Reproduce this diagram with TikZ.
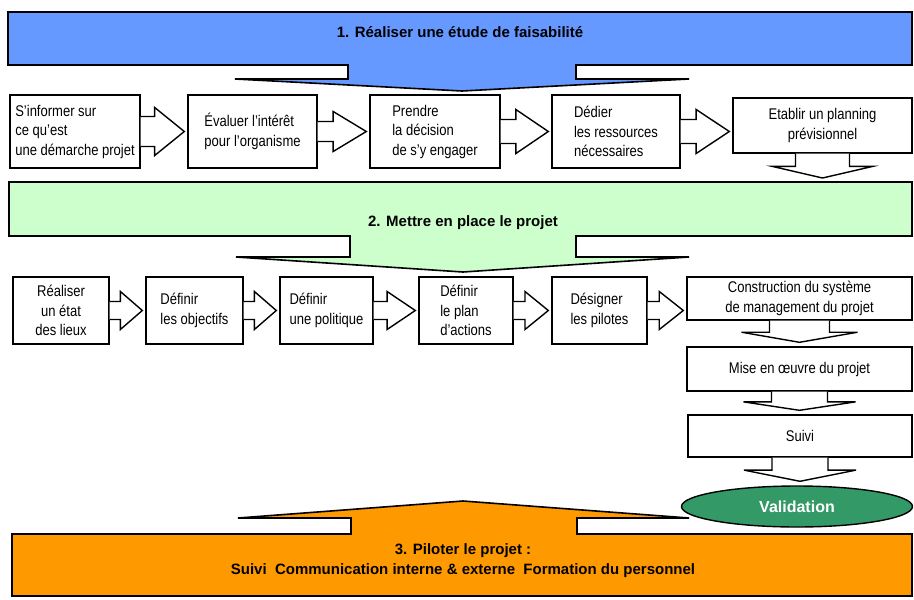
\documentclass[tikz,border=0pt]{standalone}
\usepackage{fontspec}
\setmainfont{Liberation Sans}
\newfontfamily\narrowsans{Liberation Sans}[FakeStretch=0.84]
\usepackage{tikz}
\usetikzlibrary{calc}
\usetikzlibrary{shapes.geometric}

\definecolor{bannerblue}{HTML}{6699FF}
\definecolor{bannergreen}{HTML}{CCFFCC}
\definecolor{bannerorange}{HTML}{FF9900}
\definecolor{validgreen}{HTML}{339966}

\tikzset{
	stepbox/.style={rectangle, draw=black, line width=1.4pt, fill=white, inner sep=0pt, font=\narrowsans\fontsize{15.5}{19.5}\selectfont},
	blockline/.style={draw=black, line width=1.4pt, fill=white, line join=miter},
	banner/.style={draw=black, line width=1.6pt, line join=miter},
	bannertext/.style={font=\bfseries\fontsize{15}{20}\selectfont, align=center, inner sep=0pt}
}

% block arrow to the right, #3 half stem, #4 half head
\newcommand{\rblock}[4]{%
	\path[blockline] let \p1=(#1.east), \p2=(#2.west), \n1={\x1+0.3*(\x2-\x1)} in
	(\x1,\y1+#3pt) -- (\n1,\y1+#3pt) -- (\n1,\y1+#4pt) -- (\x2-3pt,\y1) -- (\n1,\y1-#4pt) -- (\n1,\y1-#3pt) -- (\x1,\y1-#3pt);}
% block arrow downwards
\newcommand{\dblock}[4]{%
	\path[blockline] let \p1=(#1.south), \p2=(#2.north), \n1={\y1+0.45*(\y2-\y1)} in
	(\x1-#3pt,\y1) -- (\x1-#3pt,\n1) -- (\x1-#4pt,\n1) -- (\x1,\y2+4pt) -- (\x1+#4pt,\n1) -- (\x1+#3pt,\n1) -- (\x1+#3pt,\y1);}

\begin{document}
\begin{tikzpicture}[x=1pt, y=-1pt]
	\useasboundingbox (0,0) rectangle (914,600);
	% banners
	\path [banner, fill=bannerblue] (8,12) -- (912,12) -- (912,65) -- (576,65) -- (576,79) -- (689,79) -- (462,91) -- (235,79) -- (348,79) -- (348,65) -- (8,65) -- cycle;
	\node [bannertext] (ban1) at (460,32) {1. Réaliser une étude de faisabilité};
	\path [banner, fill=bannergreen] (9,182) -- (912,182) -- (912,236) -- (576,236) -- (576,257) -- (689,257) -- (463,272) -- (236,257) -- (350,257) -- (350,236) -- (9,236) -- cycle;
	\node [bannertext] (ban2) at (463,223) {2. Mettre en place le projet};
	\coordinate (ban2top) at (822,182);
	\path [banner, fill=bannerorange] (12,596) -- (912,596) -- (912,534) -- (577,534) -- (577,518) -- (689,518) -- (463,501) -- (238,518) -- (351,518) -- (351,534) -- (12,534) -- cycle;
	\node [bannertext] (ban3) at (463,561) {3. Piloter le projet :\\Suivi\ \ Communication interne \& externe\ \ Formation du personnel};

	% feasibility steps
	\node [stepbox, minimum width=130, minimum height=73, align=left] (f1) at (75,131.5) {S’informer sur\\ce qu’est\\une démarche projet};
	\node [stepbox, minimum width=129, minimum height=73, align=left] (f2) at (252.5,131.5) {Évaluer l’intérêt\\pour l’organisme};
	\node [stepbox, minimum width=130, minimum height=73, align=left] (f3) at (435,131.5) {Prendre\\la décision\\de s’y engager};
	\node [stepbox, minimum width=128, minimum height=73, align=left] (f4) at (616,131.5) {Dédier\\les ressources\\nécessaires};
	\node [stepbox, minimum width=179, minimum height=55, align=center] (f5) at (822.5,125.5) {Etablir un planning\\prévisionnel};
	\rblock{f1}{f2}{15}{24}
	\rblock{f2}{f3}{10}{20}
	\rblock{f3}{f4}{12}{22}
	\rblock{f4}{f5}{12}{22}
	\dblock{f5}{ban2top}{27}{50}

	% setting up steps
	\node [stepbox, minimum width=96, minimum height=67, align=center] (m1) at (61,310.5) {Réaliser\\un état\\des lieux};
	\node [stepbox, minimum width=97, minimum height=67, align=left] (m2) at (194.5,310.5) {Définir\\les objectifs};
	\node [stepbox, minimum width=93, minimum height=67, align=left] (m3) at (326.5,310.5) {Définir\\une politique};
	\node [stepbox, minimum width=94, minimum height=67, align=left] (m4) at (466,310.5) {Définir\\le plan\\d’actions};
	\node [stepbox, minimum width=95, minimum height=67, align=left] (m5) at (599.5,310.5) {Désigner\\les pilotes};
	\node [stepbox, minimum width=225, minimum height=43, align=center] (m6) at (799.5,298.5) {Construction du système\\de management du projet};
	\node [stepbox, minimum width=225, minimum height=44] (mise) at (799.5,369) {Mise en œuvre du projet};
	\node [stepbox, minimum width=224, minimum height=42] (suivi) at (800,436) {Suivi};
	\rblock{m1}{m2}{9}{19}
	\rblock{m2}{m3}{9}{19}
	\rblock{m3}{m4}{9}{19}
	\rblock{m4}{m5}{9}{19}
	\rblock{m5}{m6}{9}{19}
	\dblock{m6}{mise}{30}{58}
	\dblock{mise}{suivi}{28}{56}

	\node [ellipse, draw=black, line width=1.4pt, fill=validgreen, minimum width=231, minimum height=41, inner sep=0pt, text=white, font=\bfseries\fontsize{16}{18}\selectfont] (valid) at (797,506.5) {Validation};
	\dblock{suivi}{valid}{28}{56}
\end{tikzpicture}
\end{document}
